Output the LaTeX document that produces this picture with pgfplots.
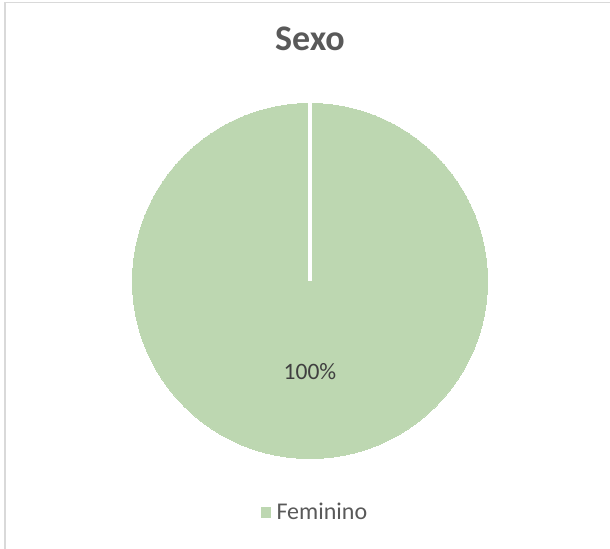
\documentclass[border=0pt]{standalone}
\usepackage{fontspec}
\setmainfont{Carlito}
\usepackage{pgfplots}
\pgfplotsset{compat=1.18}
\definecolor{pie}{HTML}{BDD7B1}
\definecolor{titlegray}{HTML}{595959}
\definecolor{labelgray}{HTML}{404040}
\definecolor{frame}{HTML}{D9D9D9}
\begin{document}
\begin{tikzpicture}
\useasboundingbox (0,0) rectangle (610bp,-549bp);
% chart frame (right and bottom edges are cropped off in the reference)
\draw[frame, line width=1.6bp] (5bp,-560bp) -- (5bp,-2.5bp) -- (620bp,-2.5bp);
\begin{axis}[
    at={(310bp,-281bp)}, anchor=center,
    scale only axis,
    width=355bp, height=355bp,
    xmin=-1, xmax=1, ymin=-1, ymax=1,
    hide axis,
    clip=false,
    title={Sexo},
    title style={at={(axis description cs:0.5,1.1338)}, anchor=base,
        font=\fontsize{36bp}{40bp}\selectfont\bfseries, text=titlegray},
    legend style={at={(axis description cs:0.514,-0.151)}, anchor=center,
        draw=none, fill=none,
        font=\fontsize{24bp}{26bp}\selectfont, text=titlegray,
        legend cell align=left},
]
% single slice: Feminino = 100 %
\addplot[pie, only marks, mark=*, mark size=177.5bp,
    mark options={fill=pie, draw=pie, line width=0pt},
    legend image code/.code={\fill[pie] (0bp,-4.7bp) rectangle (9.4bp,4.7bp);}]
    coordinates {(0,0)};
\addlegendentry{\hspace{4bp}Feminino}
% slice boundary at 12 o'clock (centre to rim)
\addplot[white, only marks, mark=|, mark size=89bp, forget plot,
    mark options={line width=3.6bp}]
    coordinates {(0,0.5)};
% data label
\addplot[draw=none, forget plot, nodes near coords, point meta=explicit symbolic,
    every node near coord/.style={anchor=center,
        font=\fontsize{23.5bp}{26bp}\selectfont, text=labelgray}]
    coordinates {(0,-0.513) [100\%]};
\end{axis}
\end{tikzpicture}
\end{document}
